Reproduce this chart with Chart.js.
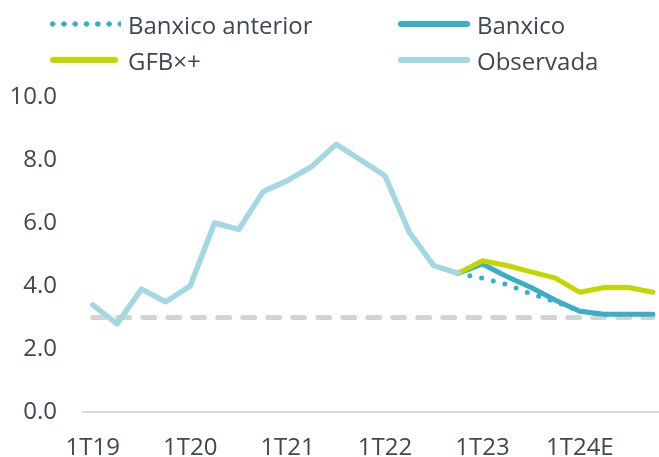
<!DOCTYPE html>
<html lang="es">
<head>
  <meta charset="UTF-8">
  <title>Inflación</title>
  <script src="https://cdn.jsdelivr.net/npm/chart.js"></script>
  <style>
    body { margin: 0; background: #fff; font-family: "Open Sans", sans-serif; }
    #wrap { position: relative; width: 659px; height: 457px; overflow: hidden; }
    #legend { position: absolute; left: 0; top: 0; width: 659px; height: 80px; color: #3e4753; font-size: 24px; }
    .item { position: absolute; display: flex; align-items: center; height: 30px; white-space: nowrap; }
    .sample { height: 6px; border-radius: 3px; }
    .dots { height: 6px; background-repeat: repeat-x; background-size: 11.3px 6px; background-position: -3px 0; }
  </style>
</head>
<body>
  <div id="wrap">
    <canvas id="chart"></canvas>
    <div id="legend"></div>
  </div>

  <script>
    // x axis: quarters 1T19 .. 4T24, only first quarter of each year labelled
    const tickLabels = ['1T19', '1T20', '1T21', '1T22', '1T23', '1T24E'];
    const tickIndex = [0, 4, 8, 12, 16, 20];

    // observed inflation, 1T19 .. 4T22
    const observada = [3.4, 2.8, 3.9, 3.5, 4.0, 6.0, 5.8, 7.0, 7.35, 7.8, 8.5, 8.0, 7.5, 5.7, 4.65, 4.4];

    // forecasts, 4T22 .. 4T24
    const forecastStart = 15;
    const banxico = [4.4, 4.7, 4.3, 3.95, 3.55, 3.2, 3.1, 3.1, 3.1];
    const banxicoAnterior = [4.4, 4.25, 4.05, 3.75, 3.5, 3.2, 3.1, 3.1, 3.1];
    const gfb = [4.4, 4.8, 4.65, 4.45, 4.25, 3.8, 3.95, 3.95, 3.8];

    // inflation target
    const meta = 3.0;
    const nQuarters = 24;

    const textColor = '#3e4753';
    const font = { family: '"Open Sans", sans-serif', size: 24 };

    const toPoints = (values, start) => values.map((v, i) => ({ x: start + i, y: v }));

    const datasets = [
      { label: 'Banxico anterior', data: toPoints(banxicoAnterior, forecastStart), borderColor: '#3aaec7',
        borderWidth: 5, borderDash: [0, 12], borderCapStyle: 'round', order: 4, dotted: true },
      { label: 'Banxico', data: toPoints(banxico, forecastStart), borderColor: '#3aaec7',
        borderWidth: 5, borderCapStyle: 'round', order: 3 },
      { label: 'GFB×+', data: toPoints(gfb, forecastStart), borderColor: '#c4d600',
        borderWidth: 5, borderCapStyle: 'round', order: 2 },
      { label: 'Observada', data: toPoints(observada, 0), borderColor: '#a2d9e1',
        borderWidth: 5.5, borderCapStyle: 'round', order: 1 },
      { label: 'Meta', data: toPoints(new Array(nQuarters).fill(meta), 0), borderColor: '#d3d3d3',
        borderWidth: 5, borderDash: [12, 13], borderCapStyle: 'round', order: 5, noLegend: true }
    ];

    datasets.forEach(d => {
      d.fill = false;
      d.pointRadius = 0;
      d.pointHoverRadius = 0;
      d.borderJoinStyle = 'round';
      d.tension = 0;
    });

    new Chart(document.getElementById('chart'), {
      type: 'line',
      data: { datasets: datasets },
      options: {
        responsive: true,
        maintainAspectRatio: false,
        animation: false,
        layout: { padding: { top: 97, left: 0, right: 0, bottom: 0 } },
        plugins: { legend: { display: false }, tooltip: { enabled: false } },
        scales: {
          x: {
            type: 'linear',
            min: -0.4,
            max: 23.25,
            grid: { display: false, drawTicks: false },
            border: { display: true, color: '#d9d9d9', width: 2 },
            afterBuildTicks: s => { s.ticks = tickIndex.map(v => ({ value: v })); },
            afterFit: s => { s.height = 45; },
            ticks: {
              font: font,
              color: textColor,
              padding: 22,
              maxRotation: 0,
              autoSkip: false,
              callback: v => tickLabels[tickIndex.indexOf(v)]
            }
          },
          y: {
            min: 0,
            max: 10,
            grid: { display: false, drawTicks: false },
            border: { display: false },
            afterFit: s => { s.width = 83; },
            ticks: {
              stepSize: 2,
              font: font,
              color: textColor,
              padding: 26,
              callback: v => v.toFixed(1)
            }
          }
        }
      }
    });

    // legend in two columns, like the original
    const legendCols = [{ sx: 50, sw: 68, tx: 128 }, { sx: 398, sw: 72, tx: 477 }];
    const legendRows = [24, 60];
    const legend = document.getElementById('legend');
    datasets.filter(d => !d.noLegend).forEach((d, i) => {
      const col = legendCols[i % 2];
      const row = legendRows[Math.floor(i / 2)];
      const sample = document.createElement('div');
      sample.className = 'item';
      sample.style.left = col.sx + 'px';
      sample.style.top = (row - 15) + 'px';
      const line = document.createElement('div');
      line.style.width = col.sw + 'px';
      if (d.dotted) {
        line.className = 'dots';
        line.style.width = (col.sw + 3) + 'px';
        line.style.backgroundImage = 'radial-gradient(circle at 5.65px 3px, ' + d.borderColor + ' 2.4px, transparent 3px)';
      } else {
        line.className = 'sample';
        line.style.background = d.borderColor;
      }
      sample.appendChild(line);
      legend.appendChild(sample);

      const text = document.createElement('div');
      text.className = 'item';
      text.style.left = col.tx + 'px';
      text.style.top = (row - 15) + 'px';
      text.textContent = d.label;
      legend.appendChild(text);
    });
  </script>
</body>
</html>
